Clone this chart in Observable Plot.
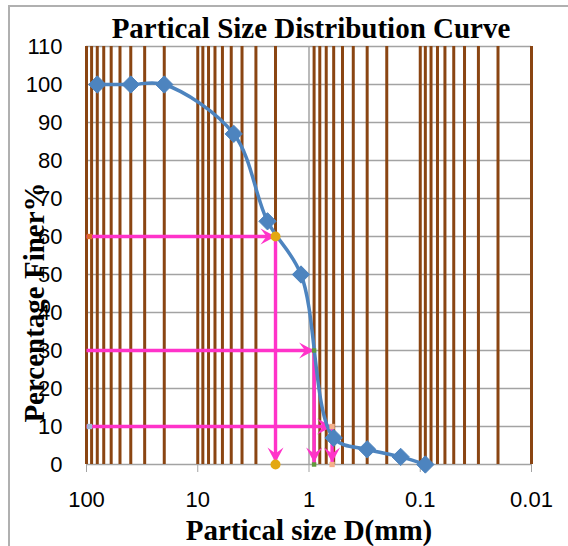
<!DOCTYPE html>
<html><head><meta charset="utf-8">
<script src="https://cdn.jsdelivr.net/npm/d3@7"></script>
<script src="https://cdn.jsdelivr.net/npm/@observablehq/plot@0.6"></script>
<style>
html,body{margin:0;padding:0;background:#fff;}
#wrap{position:relative;width:568px;height:546px;overflow:hidden;}
#border{position:absolute;left:8px;top:5px;width:600px;height:600px;border-left:2px solid #b0b0b0;border-top:2px solid #b0b0b0;pointer-events:none;}
#wrap svg{position:absolute;left:0;top:0;}
</style></head><body><div id="wrap"><div id="border"></div></div>
<script>
// Sieve analysis data
const sieveSize = [80, 40, 20, 4.75, 2.36, 1.18, 0.6, 0.3, 0.15, 0.09];
const percentFiner = [100, 100, 100, 87, 64, 50, 7, 4, 2, 0];
// Characteristic diameters
const dNames = ["D60", "D30", "D10"];
const dPercent = [60, 30, 10];
const dSize = [2.0, 0.9, 0.62];
// Axes
const xDomain = [100, 0.01];
const xTicks = [100, 10, 1, 0.1, 0.01];
const xTickLabels = ["100", "10", "1", "0.1", "0.01"];
const yTicks = [0, 10, 20, 30, 40, 50, 60, 70, 80, 90, 100, 110];
const decades = [0.01, 0.1, 1, 10];
const multipliers = [1, 2, 3, 4, 5, 6, 7, 8, 9];
const titleText = "Partical Size Distribution Curve";
const xTitle = "Partical size D(mm)";
const yTitle = "Percentage Finer%";

const minorGrid = decades.flatMap(d => multipliers.map(m => +(m * d).toPrecision(3))).concat([100]).filter(v => v !== 1);
const curveData = sieveSize.map((s, i) => ({size: s, finer: percentFiner[i]}));
const guides = dNames.map((n, i) => ({name: n, p: dPercent[i], d: dSize[i], left: xDomain[0], zero: yTicks[0]}));

const pink = "#ff33c9";
const blue = "#4d84bf";
const serif = "Liberation Serif";

// filled "stealth" arrowhead, tip at the origin, pointing right
const stealth = {
  draw(ctx) {
    ctx.moveTo(0, 0);
    ctx.lineTo(-15, -8);
    ctx.lineTo(-9, 0);
    ctx.lineTo(-15, 8);
    ctx.closePath();
  }
};

const chart = Plot.plot({
  width: 568, height: 546,
  marginLeft: 86, marginRight: 37, marginTop: 46, marginBottom: 82,
  style: {background: "transparent", fontFamily: "Liberation Sans", overflow: "visible"},
  x: {type: "log", domain: xDomain},
  y: {domain: [0, 110]},
  marks: [
    Plot.ruleY(yTicks, {stroke: "#a3a3a3", strokeWidth: 1.5}),
    Plot.ruleX([1], {stroke: "#a3a3a3", strokeWidth: 1.5}),
    Plot.ruleX(minorGrid, {stroke: "#8a4512", strokeWidth: 3}),
    Plot.axisX({ticks: xTicks, tickFormat: d => xTickLabels[xTicks.indexOf(d)], tickSize: 8, tickPadding: 19, fontSize: 22, stroke: "#a3a3a3", fill: "#000", label: null}),
    Plot.axisY({ticks: yTicks, tickSize: 0, tickPadding: 24, fontSize: 22, fill: "#000", label: null}),
    // guide arrows
    Plot.link(guides, {x1: "left", y1: "p", x2: "d", y2: "p", stroke: pink, strokeWidth: 3.4}),
    Plot.link(guides, {x1: "d", y1: "p", x2: "d", y2: "zero", stroke: pink, strokeWidth: 3.4}),
    Plot.dot(guides, {x: "d", y: "p", symbol: stealth, fill: pink, stroke: "none", rotate: 0}),
    Plot.dot(guides, {x: "d", y: "zero", symbol: stealth, fill: pink, stroke: "none", rotate: 90, dy: -2}),
    // curve
    Plot.line(curveData, {x: "size", y: "finer", curve: "catmull-rom", stroke: blue, strokeWidth: 3.5}),
    Plot.dot(curveData, {x: "size", y: "finer", symbol: "diamond2", r: 7.8, fill: blue, stroke: blue, strokeWidth: 1}),
    // guide markers
    Plot.dot(guides.slice(0, 1), {x: "d", y: "p", r: 5, fill: "#e3a812"}),
    Plot.dot(guides.slice(0, 1), {x: "d", y: "zero", r: 5, fill: "#e3a812"}),
    Plot.dot(guides.slice(1, 2), {x: "d", y: "p", symbol: "square", r: 2.5, fill: "#5f9a3c"}),
    Plot.dot(guides.slice(1, 2), {x: "d", y: "zero", symbol: "square", r: 2.5, fill: "#5f9a3c"}),
    Plot.dot(guides.slice(2, 3), {x: "d", y: "p", symbol: "square", r: 3, fill: "#f4b08a"}),
    Plot.dot(guides.slice(2, 3), {x: "d", y: "zero", symbol: "square", r: 3, fill: "#f4b08a"}),
    Plot.dot(guides.slice(0, 1), {x: "left", y: "p", symbol: "square", r: 3, fill: "#e06a2c", dx: 3}),
    Plot.dot(guides.slice(2, 3), {x: "left", y: "p", symbol: "square", r: 3, fill: "#9fb4d8", dx: 3}),
    // titles
    Plot.text([titleText], {text: d => d, frameAnchor: "top", lineAnchor: "middle", textAnchor: "middle", dx: 2, dy: -18, fontSize: 29, fontWeight: "bold", fontFamily: serif, fill: "#000"}),
    Plot.text([xTitle], {text: d => d, frameAnchor: "bottom", lineAnchor: "middle", textAnchor: "middle", dx: 0, dy: 66, fontSize: 29, fontWeight: "bold", fontFamily: serif, fill: "#000"}),
    Plot.text([yTitle], {text: d => d, frameAnchor: "left", lineAnchor: "middle", textAnchor: "middle", dx: -52, dy: 47, rotate: -90, fontSize: 29, fontWeight: "bold", fontFamily: serif, fill: "#000"})
  ]
});
document.getElementById("wrap").appendChild(chart);
</script>
</body></html>
